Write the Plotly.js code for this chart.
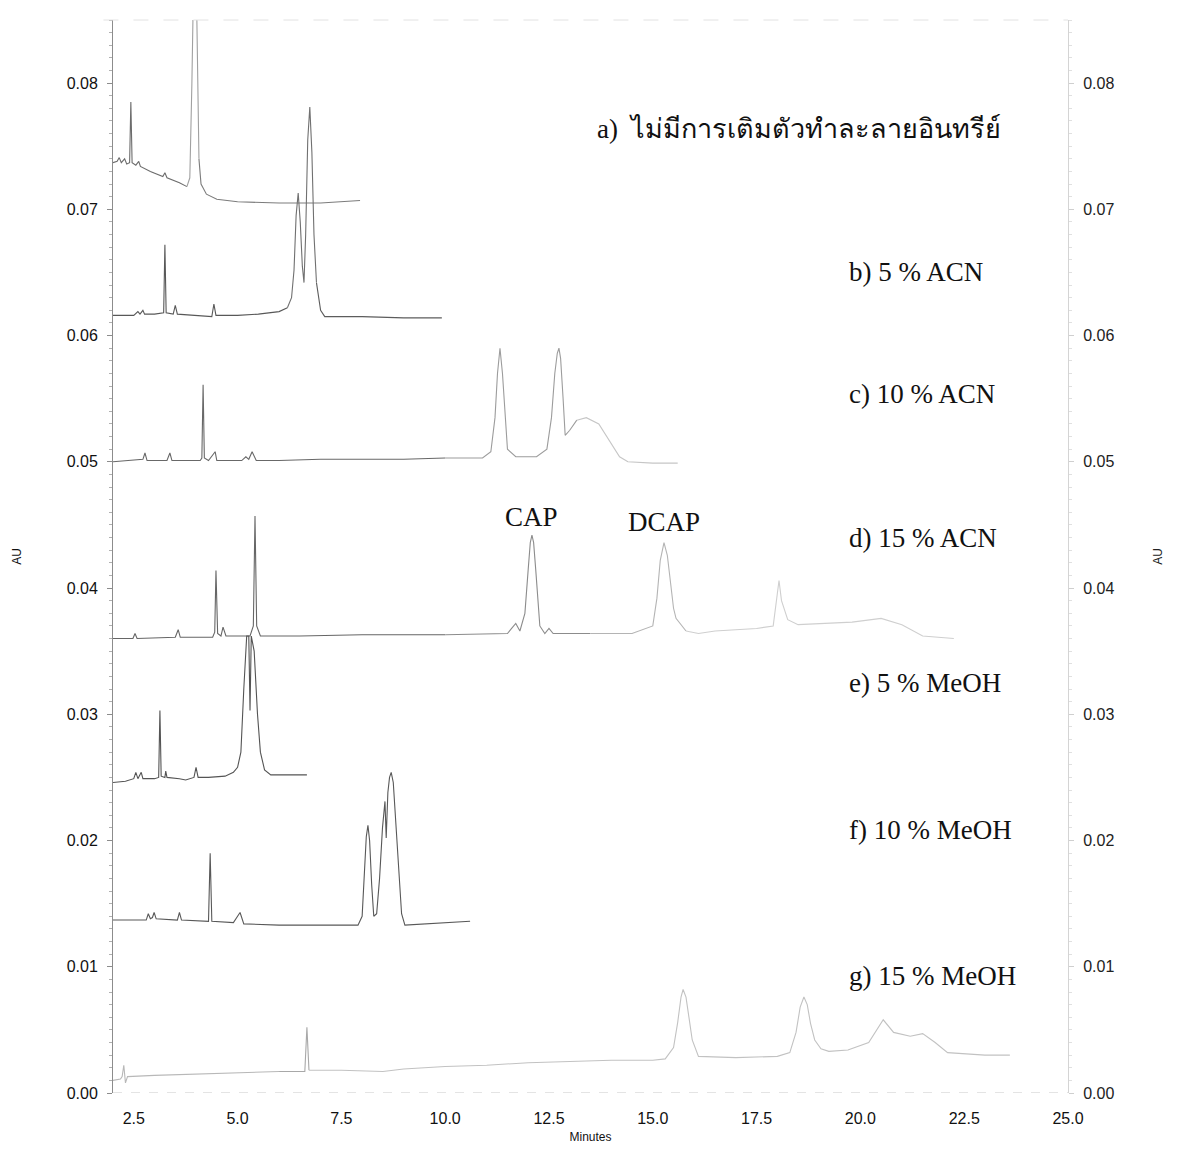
<!DOCTYPE html>
<html>
<head>
<meta charset="utf-8">
<script src="https://cdn.plot.ly/plotly-3.0.1.min.js"></script>
<style>html,body{margin:0;padding:0;background:#fff;}#chart{width:1180px;height:1152px;}</style>
</head>
<body>
<div id="chart"></div>
<script>
// ---- data (minutes, AU) ----
const xTickVals = [2.5, 5.0, 7.5, 10.0, 12.5, 15.0, 17.5, 20.0, 22.5, 25.0];

const aTime = [2.0,2.1,2.15,2.2,2.28,2.33,2.40,2.43,2.46,2.55,2.62,2.66,2.9,3.2,3.25,3.3,3.6,3.78,3.85,3.9,3.95,4.02,4.07,4.12,4.25,4.5,5.0,6.0,7.0,7.95];
const aAU   = [0.0737,0.0738,0.0741,0.0737,0.0740,0.0736,0.0737,0.0785,0.0737,0.0735,0.0738,0.0734,0.0730,0.0726,0.0729,0.0725,0.0721,0.0718,0.0725,0.0800,0.0900,0.0850,0.0740,0.0720,0.0712,0.0708,0.0706,0.0705,0.0705,0.0707];

const bTime = [2.0,2.5,2.6,2.65,2.72,2.76,3.0,3.22,3.25,3.28,3.45,3.5,3.55,4.0,4.38,4.43,4.48,5.0,5.5,6.0,6.2,6.3,6.36,6.41,6.46,6.51,6.56,6.6,6.64,6.69,6.74,6.79,6.84,6.9,7.0,7.1,8.0,9.0,9.92];
const bAU   = [0.0616,0.0616,0.0619,0.0617,0.0620,0.0617,0.0617,0.0618,0.0672,0.0618,0.0617,0.0624,0.0617,0.0616,0.0615,0.0625,0.0616,0.0616,0.0617,0.0619,0.0622,0.0630,0.0652,0.0695,0.0713,0.0690,0.0655,0.0642,0.0680,0.0755,0.0781,0.0745,0.0680,0.0642,0.0620,0.0615,0.0615,0.0614,0.0614];

const cTime = [2.0,2.5,2.72,2.77,2.82,3.3,3.37,3.42,4.1,4.14,4.17,4.2,4.3,4.46,4.5,5.1,5.2,5.27,5.35,5.45,6.0,7.0,8.0,9.0,10.0,10.9,11.1,11.2,11.26,11.32,11.38,11.44,11.5,11.7,12.2,12.45,12.56,12.64,12.7,12.74,12.78,12.84,12.89,13.0,13.17,13.4,13.7,14.0,14.2,14.4,15.0,15.6];
const cAU   = [0.0500,0.0501,0.0502,0.0507,0.0501,0.0501,0.0507,0.0501,0.0501,0.0503,0.0561,0.0503,0.0501,0.0508,0.0501,0.0501,0.0504,0.0502,0.0508,0.0501,0.0501,0.0502,0.0502,0.0502,0.0503,0.0503,0.0508,0.0535,0.0570,0.0590,0.0570,0.0535,0.0510,0.0504,0.0504,0.0510,0.0535,0.0570,0.0586,0.0590,0.0582,0.0550,0.0521,0.0525,0.0533,0.0535,0.0530,0.0515,0.0504,0.0500,0.0499,0.0499];

const dTime = [2.0,2.48,2.53,2.58,3.5,3.57,3.62,4.4,4.45,4.48,4.52,4.6,4.65,4.72,5.3,5.38,5.42,5.46,5.55,6.5,8.0,10.0,11.5,11.6,11.7,11.8,11.92,12.0,12.05,12.09,12.13,12.18,12.28,12.4,12.5,12.6,13.5,14.5,15.0,15.1,15.18,15.27,15.35,15.43,15.5,15.56,15.8,16.1,16.5,16.9,17.5,17.9,18.0,18.04,18.1,18.25,18.5,19.2,19.8,20.5,21.0,21.5,22.25];
const dAU   = [0.0360,0.0360,0.0364,0.0360,0.0361,0.0367,0.0361,0.0361,0.0365,0.0414,0.0364,0.0362,0.0369,0.0362,0.0362,0.0370,0.0457,0.0370,0.0362,0.0362,0.0363,0.0363,0.0364,0.0368,0.0372,0.0366,0.0380,0.0415,0.0436,0.0442,0.0436,0.0415,0.0370,0.0364,0.0368,0.0364,0.0364,0.0364,0.0370,0.0392,0.0422,0.0436,0.0426,0.0402,0.0384,0.0376,0.0366,0.0364,0.0366,0.0367,0.0368,0.0370,0.0395,0.0406,0.0390,0.0375,0.0371,0.0372,0.0373,0.0376,0.0371,0.0362,0.0360];

const eTime = [2.0,2.3,2.5,2.55,2.6,2.68,2.72,3.0,3.1,3.13,3.16,3.25,3.27,3.3,3.6,3.75,3.95,4.0,4.05,4.3,4.7,4.9,5.0,5.08,5.15,5.22,5.27,5.3,5.33,5.4,5.48,5.55,5.65,5.8,6.2,6.67];
const eAU   = [0.0246,0.0247,0.0249,0.0254,0.0249,0.0254,0.0249,0.0249,0.0250,0.0303,0.0251,0.0250,0.0255,0.0250,0.0249,0.0248,0.0250,0.0258,0.0250,0.0250,0.0251,0.0254,0.0258,0.0270,0.0320,0.0362,0.0362,0.0303,0.0362,0.0350,0.0300,0.0270,0.0256,0.0252,0.0252,0.0252];

const fTime = [2.0,2.8,2.85,2.9,2.95,2.99,3.04,3.55,3.6,3.65,4.3,4.34,4.38,4.9,5.0,5.06,5.15,6.0,7.0,7.9,8.0,8.05,8.1,8.14,8.18,8.23,8.28,8.35,8.42,8.49,8.55,8.58,8.62,8.66,8.7,8.75,8.81,8.88,8.95,9.03,9.5,10.0,10.6];
const fAU   = [0.0137,0.0137,0.0142,0.0138,0.0139,0.0143,0.0138,0.0137,0.0143,0.0137,0.0136,0.0190,0.0136,0.0135,0.0140,0.0143,0.0134,0.0133,0.0133,0.0133,0.0140,0.0170,0.0203,0.0212,0.0200,0.0165,0.0140,0.0142,0.0170,0.0210,0.0231,0.0202,0.0238,0.0250,0.0254,0.0246,0.0215,0.0170,0.0142,0.0133,0.0134,0.0135,0.0136];

const gTime = [2.0,2.18,2.22,2.26,2.3,2.35,3.0,4.0,5.0,6.0,6.62,6.67,6.72,7.5,8.5,9.0,10.0,11.0,12.0,13.0,14.0,15.0,15.3,15.5,15.6,15.68,15.73,15.8,15.88,15.95,16.1,17.0,18.0,18.3,18.45,18.55,18.64,18.72,18.8,18.9,19.05,19.24,19.7,20.2,20.55,20.8,21.2,21.5,21.8,22.1,23.0,23.6];
const gAU   = [0.0010,0.0011,0.0013,0.0022,0.0008,0.0013,0.0014,0.0015,0.0016,0.0017,0.0017,0.0052,0.0018,0.0018,0.0017,0.0019,0.0021,0.0022,0.0024,0.0025,0.0026,0.0026,0.0027,0.0036,0.0056,0.0076,0.0082,0.0076,0.0058,0.0042,0.0029,0.0028,0.0029,0.0032,0.0048,0.0068,0.0076,0.0070,0.0055,0.0042,0.0035,0.0033,0.0034,0.0040,0.0058,0.0048,0.0045,0.0047,0.0040,0.0032,0.0030,0.0030];

const traceLabels = ['a)  ไม่มีการเติมตัวทำละลายอินทรีย์','b) 5 % ACN','c) 10 % ACN','d) 15 % ACN','e) 5 % MeOH','f) 10 % MeOH','g) 15 % MeOH'];
const labelAU = [0.0764,0.0650,0.0554,0.0440,0.0325,0.0208,0.0093];
const peakNames = ['CAP','DCAP'];
const peakTime = [12.09,15.27];
const peakLabelAU = [0.0456,0.0452];

// ---- styling: colour bands along each trace (imitating the faded scan) ----
const series = [[aTime,aAU],[bTime,bAU],[cTime,cAU],[dTime,dAU],[eTime,eAU],[fTime,fAU],[gTime,gAU]];
const bands = [
  [[2.0,'#6c6c6c'],[3.85,'#a0a0a0'],[4.1,'#7c7c7c']],
  [[2.0,'#585858'],[6.3,'#707070'],[7.0,'#5c5c5c']],
  [[2.0,'#686868'],[10.5,'#9c9c9c'],[13.3,'#c6c6c6']],
  [[2.0,'#666666'],[11.0,'#8c8c8c'],[14.5,'#b4b4b4'],[16.0,'#cfcfcf']],
  [[2.0,'#545454']],
  [[2.0,'#585858']],
  [[2.0,'#b8b8b8'],[6.5,'#a8a8a8'],[6.9,'#c2c2c2']]
];

const traces = [];
series.forEach((s,i)=>{
  const b = bands[i];
  b.forEach((band,k)=>{
    const t0 = band[0], t1 = (k+1<b.length) ? b[k+1][0] : Infinity;
    const xs=[], ys=[];
    for(let j=0;j<s[0].length;j++){
      const t=s[0][j];
      const inBand = (t>=t0 && t<t1);
      const nextIn = (j+1<s[0].length && s[0][j+1]>=t0 && s[0][j+1]<t1);
      if(inBand || nextIn){ xs.push(t); ys.push(s[1][j]); }
    }
    traces.push({x:xs, y:ys, type:'scatter', mode:'lines',
      line:{color:band[1], width:1.1}, hoverinfo:'skip', showlegend:false});
  });
});
traces.push({x:[], y:[], type:'scatter', mode:'lines', yaxis:'y2', showlegend:false, hoverinfo:'skip'});

const serif = 'Liberation Serif, Times New Roman, serif';
const sans = 'Liberation Sans, Arial, sans-serif';

const annotations = traceLabels.map((t,i)=>({
  x:19.68, y:labelAU[i], xref:'x', yref:'y', text:t, showarrow:false,
  xanchor:'left', yanchor:'middle', font:{family:serif, size:27, color:'#111'}
}));
annotations[0].x = 13.6;
peakNames.forEach((n,i)=>annotations.push({
  x:peakTime[i], y:peakLabelAU[i], xref:'x', yref:'y', text:n, showarrow:false,
  xanchor:'center', yanchor:'middle', font:{family:serif, size:27, color:'#111'}
}));

const layout = {
  width:1180, height:1152,
  margin:{l:113, r:112, t:20, b:59},
  paper_bgcolor:'#fff', plot_bgcolor:'#fff',
  showlegend:false, hovermode:false,
  font:{family:sans, color:'#111'},
  xaxis:{
    range:[2.0,25.0], tickvals:xTickVals, tickformat:'.1f',
    showgrid:false, zeroline:false, showline:false, ticks:'',
    ticklabelstandoff:14,
    tickfont:{family:sans, size:16, color:'#111'},
    title:{text:'Minutes', font:{family:sans, size:12, color:'#111'}, standoff:6}
  },
  yaxis:{
    range:[0.0,0.085], dtick:0.01, tick0:0, tickformat:'.2f',
    showgrid:false, zeroline:false, showline:true, linecolor:'#8c8c8c', linewidth:1,
    ticks:'outside', ticklen:5, tickcolor:'#8c8c8c',
    minor:{dtick:0.001, ticks:'outside', ticklen:3, tickcolor:'#b0b0b0'},
    ticklabelstandoff:6,
    tickfont:{family:sans, size:16, color:'#111'},
    title:{text:'AU', font:{family:sans, size:12, color:'#111'}, standoff:42}
  },
  yaxis2:{
    overlaying:'y', side:'right', range:[0.0,0.085], dtick:0.01, tick0:0, tickformat:'.2f',
    showgrid:false, zeroline:false, showline:true, linecolor:'#d4d4d4', linewidth:1,
    ticks:'outside', ticklen:5, tickcolor:'#cfcfcf',
    minor:{dtick:0.001, ticks:'outside', ticklen:3, tickcolor:'#e0e0e0'},
    ticklabelstandoff:6,
    tickfont:{family:sans, size:16, color:'#222'},
    title:{text:'AU', font:{family:sans, size:12, color:'#222'}, standoff:40}
  },
  shapes:[
    {type:'line', xref:'paper', yref:'y', x0:0, x1:1, y0:0, y1:0, line:{color:'#c8c8c8', width:1, dash:'dash'}},
    {type:'line', xref:'paper', yref:'paper', x0:-0.01, x1:1, y0:1, y1:1, line:{color:'#e2e2e2', width:1, dash:'longdash'}}
  ],
  annotations:annotations
};

Plotly.newPlot('chart', traces, layout, {staticPlot:true, displayModeBar:false});
</script>
</body>
</html>
